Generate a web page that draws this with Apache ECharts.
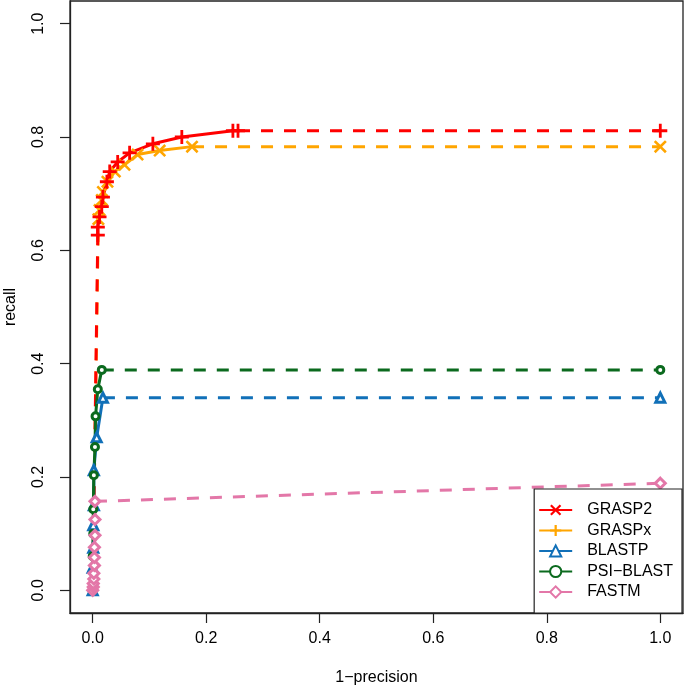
<!DOCTYPE html>
<html>
<head>
<meta charset="utf-8">
<script src="https://cdn.jsdelivr.net/npm/echarts@6/dist/echarts.min.js"></script>
<style>
html,body{margin:0;padding:0;background:#fff;}
#chart{width:685px;height:686px;}
</style>
</head>
<body>
<div id="chart"></div>
<script>
// ---- data ----
const tickValues = [0, 0.2, 0.4, 0.6, 0.8, 1.0];
const legendNames = ['GRASP2', 'GRASPx', 'BLASTP', 'PSI\u2212BLAST', 'FASTM'];

const grasp2X = [0.009, 0.009, 0.012, 0.016, 0.018, 0.025, 0.030, 0.044, 0.065, 0.106, 0.157, 0.247, 0.256];
const grasp2Y = [0.627, 0.641, 0.659, 0.677, 0.694, 0.721, 0.739, 0.756, 0.772, 0.788, 0.800, 0.811, 0.811];

const graspxX = [0.010, 0.012, 0.016, 0.018, 0.026, 0.039, 0.056, 0.079, 0.118, 0.175];
const graspxY = [0.655, 0.671, 0.689, 0.703, 0.721, 0.739, 0.751, 0.769, 0.776, 0.783];

const blastpX = [0.000, 0.000, 0.001, 0.001, 0.002, 0.002, 0.007, 0.018];
const blastpY = [0.000, 0.040, 0.075, 0.115, 0.150, 0.212, 0.270, 0.340];

const psiX = [0.000, 0.000, 0.001, 0.001, 0.002, 0.004, 0.005, 0.009, 0.016];
const psiY = [0.000, 0.060, 0.100, 0.143, 0.203, 0.253, 0.307, 0.355, 0.389];

const fastmX = [0.000, 0.001, 0.001, 0.002, 0.002, 0.003, 0.003, 0.003, 0.004, 0.004, 0.004];
const fastmY = [0.000, 0.006, 0.012, 0.020, 0.030, 0.044, 0.058, 0.076, 0.097, 0.125, 0.157];

// end values at 1-precision = 1
const endX = 1.0;
const grasp2End = 0.811;
const graspxEnd = 0.783;
const blastpEnd = 0.340;
const psiEnd = 0.389;
const fastmEnd = 0.189;

// ---- styling ----
const PLUS = 'path://M4,0H6V4H10V6H6V10H4V6H0V4H4Z';
const CROSS = 'path://M1.4,0L5,3.6L8.6,0L10,1.4L6.4,5L10,8.6L8.6,10L5,6.4L1.4,10L0,8.6L3.6,5L0,1.4Z';
const C = {red:'#FF0000', orange:'#FFA500', blue:'#1170B8', green:'#0B6A1E', pink:'#E377A8'};
const FONT = 'Liberation Sans, Arial, Helvetica, sans-serif';

function pts(xs, ys, sym) {
  return xs.map((x, i) => sym ? {value: [x, ys[i]], symbol: sym} : [x, ys[i]]);
}

function solid(name, xs, ys, color, legendSym, pointSym, size, open) {
  return {
    name: name, type: 'line', data: pts(xs, ys, pointSym),
    symbol: legendSym, symbolSize: size, showSymbol: true, showAllSymbol: true,
    clip: false, z: 3,
    lineStyle: {color: color, width: 3, type: 'solid'},
    itemStyle: open ? {color: '#fff', borderColor: color, borderWidth: 3} : {color: color, borderWidth: 0},
    emphasis: {disabled: true}, silent: true
  };
}

function dashed(name, data, color, size, open) {
  return {
    name: name, type: 'line', data: data, clip: false, z: 2,
    symbolSize: size, showSymbol: true,
    lineStyle: {color: color, width: 3, type: [12, 11]},
    itemStyle: open ? {color: '#fff', borderColor: color, borderWidth: 3} : {color: color, borderWidth: 0},
    emphasis: {disabled: true}, silent: true
  };
}

function rightTail(xs, ys, endY, sym) {
  const n = xs.length - 1;
  return [{value: [xs[n], ys[n]], symbol: 'none'}, {value: [endX, endY], symbol: sym}];
}
function downTail(xs, ys) {
  return [{value: [0, 0], symbol: 'none'}, {value: [xs[0], ys[0]], symbol: 'none'}];
}

const series = [
  dashed('t1', downTail(graspxX, graspxY), C.orange, 14, false),
  dashed('t2', rightTail(graspxX, graspxY, graspxEnd, CROSS), C.orange, 13, false),
  dashed('t3', downTail(grasp2X, grasp2Y), C.red, 14, false),
  dashed('t4', rightTail(grasp2X, grasp2Y, grasp2End, PLUS), C.red, 14, false),
  dashed('t5', rightTail(blastpX, blastpY, blastpEnd, 'triangle'), C.blue, 9, true),
  dashed('t6', rightTail(psiX, psiY, psiEnd, 'circle'), C.green, 7, true),
  dashed('t7', rightTail(fastmX, fastmY, fastmEnd, 'diamond'), C.pink, 10, true),
  solid('GRASPx', graspxX, graspxY, C.orange, PLUS, CROSS, 13, false),
  solid('GRASP2', grasp2X, grasp2Y, C.red, CROSS, PLUS, 14, false),
  solid('BLASTP', blastpX, blastpY, C.blue, 'triangle', null, 9, true),
  solid('PSI\u2212BLAST', psiX, psiY, C.green, 'circle', null, 7, true),
  solid('FASTM', fastmX, fastmY, C.pink, 'diamond', null, 10, true)
];

const axisCommon = {
  type: 'value', min: -0.04, max: 1.04,
  splitLine: {show: false},
  axisLine: {show: true, onZero: false, lineStyle: {color: '#222', width: 1.3}},
  nameLocation: 'middle',
  nameTextStyle: {fontFamily: FONT, fontSize: 16, color: '#000'},
  axisTick: {show: true, customValues: tickValues, length: 10, inside: false, lineStyle: {color: '#222', width: 1.2}},
  axisLabel: {show: true, customValues: tickValues, formatter: v => v.toFixed(1), fontFamily: FONT, fontSize: 16, color: '#000'}
};

const option = {
  animation: false,
  backgroundColor: '#fff',
  grid: {left: 70, right: 2, top: 1, bottom: 73, show: true, borderColor: '#222', borderWidth: 1.3, backgroundColor: 'transparent', containLabel: false, outerBoundsMode: 'none'},
  xAxis: Object.assign({}, axisCommon, {
    name: '1\u2212precision', nameGap: 57,
    axisLabel: Object.assign({}, axisCommon.axisLabel, {margin: 18})
  }),
  yAxis: Object.assign({}, axisCommon, {
    name: 'recall', nameGap: 51,
    axisLabel: Object.assign({}, axisCommon.axisLabel, {margin: 23, rotate: 90})
  }),
  legend: {
    data: legendNames, orient: 'vertical', right: 3, bottom: 73,
    selectedMode: false,
    itemWidth: 33, itemHeight: 14, itemGap: 4.5,
    padding: [13, 9, 13, 4],
    backgroundColor: '#fff', borderColor: '#222', borderWidth: 1.2, borderRadius: 0,
    textStyle: {fontFamily: FONT, fontSize: 16, color: '#000', lineHeight: 14, padding: [0, 0, 0, 10]}
  },
  series: series
};

const chart = echarts.init(document.getElementById('chart'), null, {renderer: 'canvas'});
chart.setOption(option);
</script>
</body>
</html>
